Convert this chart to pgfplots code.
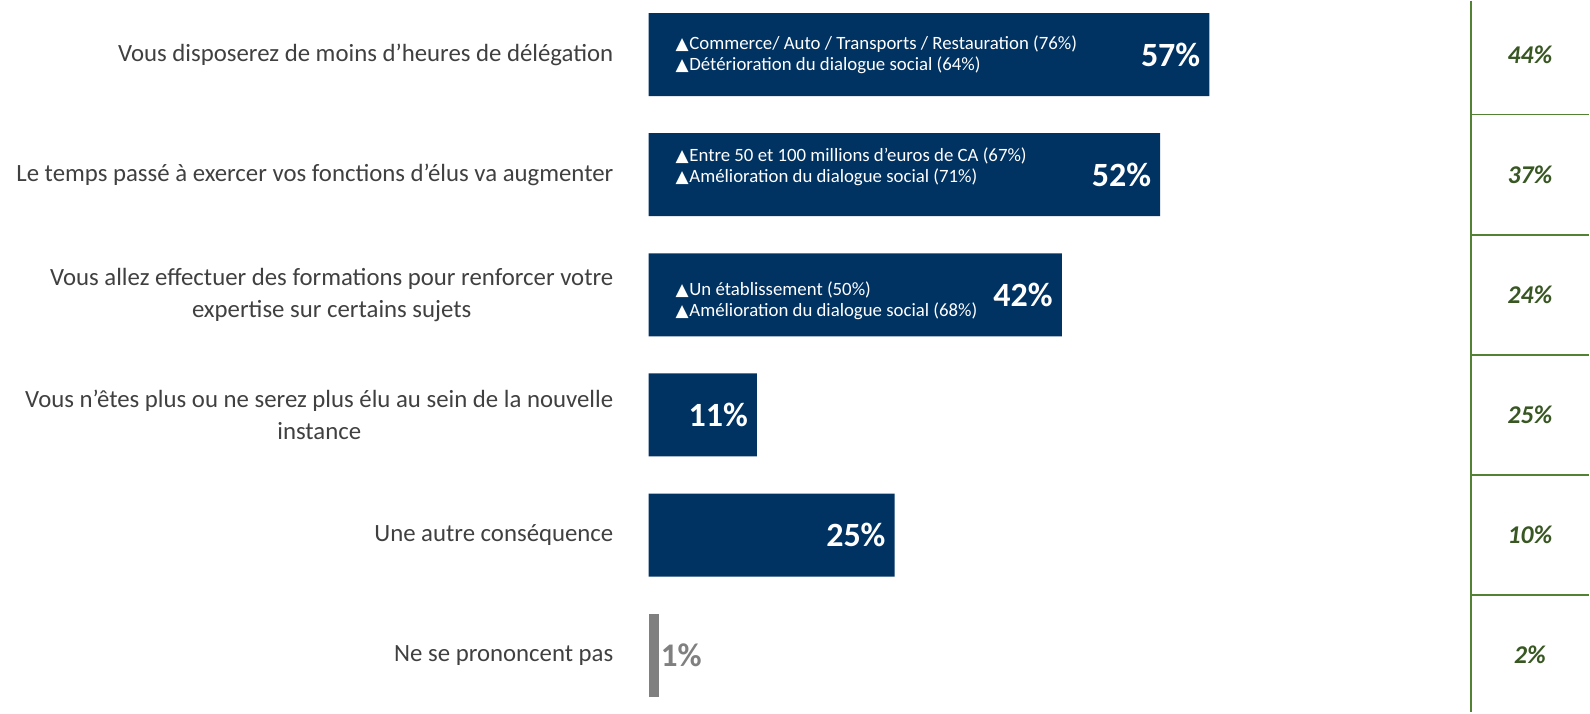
\documentclass[border=0pt]{standalone}
\usepackage{fontspec}
\setmainfont{Carlito}
\newfontfamily\symfont{DejaVu Sans}
\usepackage{pgfplots}
\usepackage{pgfplotstable}
\pgfplotsset{compat=1.18}
\definecolor{barnavy}{RGB}{0,50,98}
\definecolor{bargrey}{RGB}{128,128,128}
\definecolor{labgrey}{RGB}{64,64,64}
\definecolor{colgreen}{RGB}{56,87,35}
\definecolor{linegreen}{RGB}{84,130,53}
\newcommand{\up}{{\symfont\fontsize{8.5}{8}\selectfont ▲}\kern0.3pt}

% main bars (row index, percent)
\pgfplotstableread{
y v
0 57
1 52
2 42
3 11
4 25
}\bars
\pgfplotstableread{
y v
5 1
}\nsp
% right-hand column
\pgfplotstableread{
x y v
89.6 0 44
89.6 1 37
89.6 2 24
89.6 3 25
89.6 4 10
89.6 5 2
}\col

\begin{document}
\begin{tikzpicture}
\begin{axis}[
    scale only axis,
    width=470.5pt, height=356pt,
    xmin=0, xmax=95.63,
    ymin=-0.448, ymax=5.476,
    y dir=reverse,
    axis line style={draw=none},
    xtick=\empty,
    ytick={0,...,5},
    major tick length=0pt,
    yticklabels={
        {Vous disposerez de moins d’heures de délégation},
        {Le temps passé à exercer vos fonctions d’élus va augmenter},
        {Vous allez effectuer des formations pour renforcer votre\\expertise sur certains sujets},
        {Vous n’êtes plus ou ne serez plus élu au sein de la nouvelle\\instance},
        {Une autre conséquence},
        {Ne se prononcent pas}},
    yticklabel style={align=center, anchor=east, inner sep=0pt, xshift=-17.5pt,
        font=\fontsize{12.4}{16}\selectfont, text=labgrey},
    clip=false,
    /pgf/number format/assume math mode=true,
]
\addplot[xbar, bar shift=0pt, bar width=41.5pt, fill=barnavy, draw=none,
    point meta=x,
    nodes near coords={\pgfmathprintnumber{\pgfplotspointmeta}\%},
    nodes near coords align={anchor=east},
    every node near coord/.append style={xshift=-1pt, text=white,
        font=\bfseries\fontsize{17}{17}\selectfont}]
    table[x=v, y=y]{\bars};

\addplot[xbar, bar shift=0pt, bar width=41.5pt, fill=bargrey, draw=none,
    point meta=x,
    nodes near coords={\pgfmathprintnumber{\pgfplotspointmeta}\%},
    nodes near coords align={anchor=west},
    every node near coord/.append style={text=bargrey, inner sep=1pt,
        font=\bfseries\fontsize{16.5}{16.5}\selectfont}]
    table[x=v, y=y]{\nsp};

\addplot[draw=none, mark=none,
    point meta=explicit,
    nodes near coords={\pgfmathprintnumber{\pgfplotspointmeta}\%},
    nodes near coords align={anchor=center},
    every node near coord/.append style={text=colgreen,
        font=\bfseries\itshape\fontsize{12.8}{13}\selectfont}]
    table[x=x, y=y, meta=v]{\col};

% separators of the right column
\draw[linegreen, line width=0.75pt] (axis cs:83.6,-0.448) -- (axis cs:83.6,5.476);
\pgfplotsinvokeforeach{0.5,1.5,2.5,3.5,4.5}{
    \draw[linegreen, line width=0.75pt] (axis cs:83.6,#1) -- (axis cs:95.63,#1);
}

% sub-group notes inside the bars
\node[anchor=west, align=left, text=white, font=\fontsize{9.4}{10.5}\selectfont, xshift=10pt]
    at (axis cs:0,0) {\up Commerce/ Auto / Transports / Restauration (76\%)\\\up Détérioration du dialogue social (64\%)};
\node[anchor=west, align=left, text=white, font=\fontsize{9.4}{10.5}\selectfont, xshift=10pt, yshift=4pt]
    at (axis cs:0,1) {\up Entre 50 et 100 millions d’euros de CA (67\%)\\\up Amélioration du dialogue social (71\%)};
\node[anchor=west, align=left, text=white, font=\fontsize{9.4}{10.5}\selectfont, xshift=10pt, yshift=-3pt]
    at (axis cs:0,2) {\up Un établissement (50\%)\\\up Amélioration du dialogue social (68\%)};

\path (rel axis cs:0,0) ++(-324.5pt,0pt) rectangle (rel axis cs:1,1);
\end{axis}
\end{tikzpicture}
\end{document}
